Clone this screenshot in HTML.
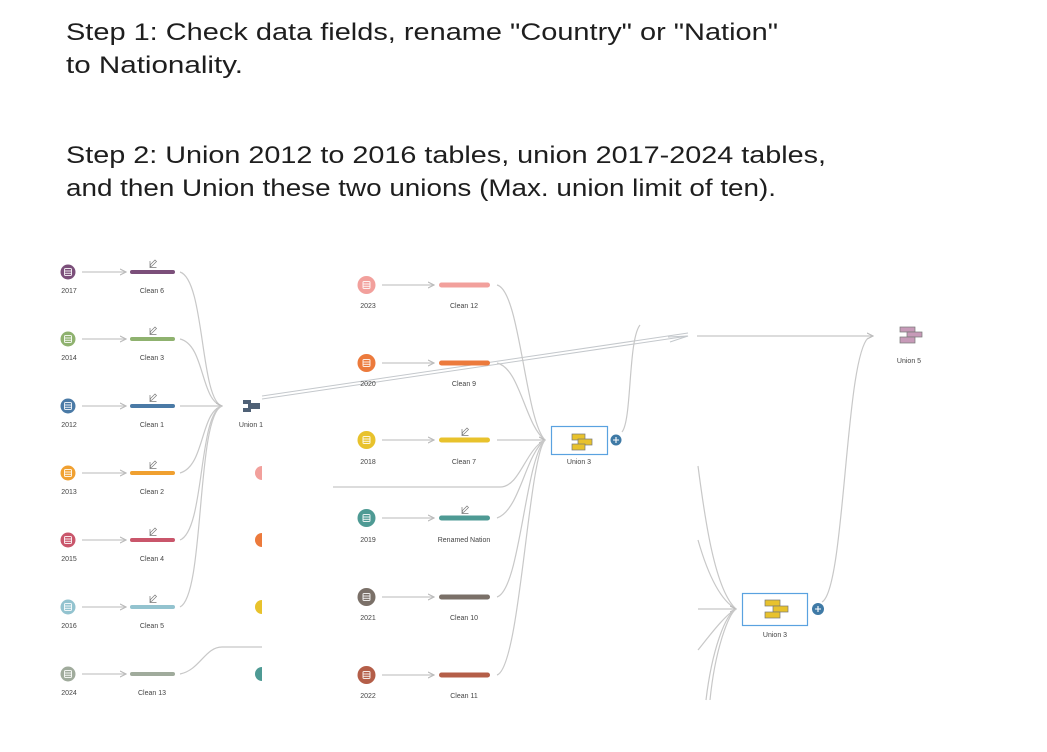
<!DOCTYPE html>
<html><head><meta charset="utf-8"><style>
html,body{margin:0;padding:0;background:#fff;}
svg{display:block;}
.t{font-family:"Liberation Sans",sans-serif;font-size:24px;fill:#1e1e1e;}
.s{font-family:"Liberation Sans",sans-serif;font-size:7px;fill:#444;text-anchor:middle;}
.c{fill:none;stroke:#c8c8c8;stroke-width:1.2;}
</style></head><body>
<svg width="1047" height="752" viewBox="0 0 1047 752" xmlns="http://www.w3.org/2000/svg">
<defs>
<marker id="a" markerWidth="6" markerHeight="6" refX="5" refY="3" orient="auto"><path d="M0,0.5 L5,3 L0,5.5" fill="none" stroke="#bbb" stroke-width="1"/></marker>
<g id="db"><rect x="-3.5" y="-3.5" width="7" height="7" rx="1" fill="none" stroke="#fff" stroke-width="1" opacity="0.85"/><line x1="-3.5" y1="-1" x2="3.5" y2="-1" stroke="#fff" opacity="0.85"/><line x1="-3.5" y1="1.3" x2="3.5" y2="1.3" stroke="#fff" opacity="0.85"/></g>
<g id="pen"><path d="M-3,3 L-2.5,0.5 L2,-4 L3.5,-2.5 L-1,2 Z M-3,-3 L-3,3.5 L3.5,3.5" fill="none" stroke="#777" stroke-width="0.7"/></g>
</defs>
<text class="t" x="66" y="40" textLength="712" lengthAdjust="spacingAndGlyphs">Step 1: Check data fields, rename "Country" or "Nation"</text>
<text class="t" x="66" y="73" textLength="177" lengthAdjust="spacingAndGlyphs">to Nationality.</text>
<text class="t" x="66" y="163" textLength="760" lengthAdjust="spacingAndGlyphs">Step 2: Union 2012 to 2016 tables, union 2017-2024 tables,</text>
<text class="t" x="66" y="196" textLength="710" lengthAdjust="spacingAndGlyphs">and then Union these two unions (Max. union limit of ten).</text>

<!-- LEFT PANEL -->
<g>
<path class="c" d="M180,272 C205,280 200,400 222,406"/>
<path class="c" d="M180,339 C205,345 200,400 222,406"/>
<path class="c" d="M180,406 L222,406" marker-end="url(#a)"/>
<path class="c" d="M180,473 C205,466 200,412 222,406"/>
<path class="c" d="M180,540 C205,530 198,414 222,406"/>
<path class="c" d="M180,607 C205,595 196,416 222,406"/>
<path class="c" d="M180,674 C200,670 205,647 222,647 L262,647"/>
<rect x="243" y="400" width="8" height="12" fill="#4f6176"/><rect x="249" y="403" width="11" height="6" fill="#4f6176"/><rect x="243" y="404" width="5" height="4" fill="#fff"/>
<text class="s" x="251" y="427">Union 1</text>
<g>
<circle cx="68" cy="272" r="7.5" fill="#7b4f7a"/><use href="#db" x="68" y="272"/><text class="s" x="69" y="293">2017</text>
<line class="c" x1="82" y1="272" x2="126" y2="272" marker-end="url(#a)"/><rect x="130" y="270" width="45" height="4" rx="2" fill="#7b4f7a"/><use href="#pen" x="153" y="264"/><text class="s" x="152" y="293">Clean 6</text>
<circle cx="68" cy="339" r="7.5" fill="#8fb26f"/><use href="#db" x="68" y="339"/><text class="s" x="69" y="360">2014</text>
<line class="c" x1="82" y1="339" x2="126" y2="339" marker-end="url(#a)"/><rect x="130" y="337" width="45" height="4" rx="2" fill="#8fb26f"/><use href="#pen" x="153" y="331"/><text class="s" x="152" y="360">Clean 3</text>
<circle cx="68" cy="406" r="7.5" fill="#4a7aa6"/><use href="#db" x="68" y="406"/><text class="s" x="69" y="427">2012</text>
<line class="c" x1="82" y1="406" x2="126" y2="406" marker-end="url(#a)"/><rect x="130" y="404" width="45" height="4" rx="2" fill="#4a7aa6"/><use href="#pen" x="153" y="398"/><text class="s" x="152" y="427">Clean 1</text>
<circle cx="68" cy="473" r="7.5" fill="#f0a030"/><use href="#db" x="68" y="473"/><text class="s" x="69" y="494">2013</text>
<line class="c" x1="82" y1="473" x2="126" y2="473" marker-end="url(#a)"/><rect x="130" y="471" width="45" height="4" rx="2" fill="#f0a030"/><use href="#pen" x="153" y="465"/><text class="s" x="152" y="494">Clean 2</text>
<circle cx="68" cy="540" r="7.5" fill="#c9566b"/><use href="#db" x="68" y="540"/><text class="s" x="69" y="561">2015</text>
<line class="c" x1="82" y1="540" x2="126" y2="540" marker-end="url(#a)"/><rect x="130" y="538" width="45" height="4" rx="2" fill="#c9566b"/><use href="#pen" x="153" y="532"/><text class="s" x="152" y="561">Clean 4</text>
<circle cx="68" cy="607" r="7.5" fill="#93c3cf"/><use href="#db" x="68" y="607"/><text class="s" x="69" y="628">2016</text>
<line class="c" x1="82" y1="607" x2="126" y2="607" marker-end="url(#a)"/><rect x="130" y="605" width="45" height="4" rx="2" fill="#93c3cf"/><use href="#pen" x="153" y="599"/><text class="s" x="152" y="628">Clean 5</text>
<circle cx="68" cy="674" r="7.5" fill="#a0ab9c"/><use href="#db" x="68" y="674"/><text class="s" x="69" y="695">2024</text>
<line class="c" x1="82" y1="674" x2="126" y2="674" marker-end="url(#a)"/><rect x="130" y="672" width="45" height="4" rx="2" fill="#a0ab9c"/><text class="s" x="152" y="695">Clean 13</text>
</g>
<path d="M262,466 A7,7 0 0 0 262,480 Z" fill="#f2a09c"/>
<path d="M262,533 A7,7 0 0 0 262,547 Z" fill="#ec7a3c"/>
<path d="M262,600 A7,7 0 0 0 262,614 Z" fill="#e8c22c"/>
<path d="M262,667 A7,7 0 0 0 262,681 Z" fill="#4e9a94"/>
</g>

<path d="M262,396 L688,333" stroke="#c4c8cc" stroke-width="1" fill="none"/>
<path d="M262,399 L688,336" stroke="#c4c8cc" stroke-width="1" fill="none"/>

<!-- MIDDLE PANEL -->
<g>
<path class="c" d="M497,285 C520,290 525,420 545,440"/>
<path class="c" d="M497,363 C520,368 525,425 545,440"/>
<path class="c" d="M497,440 L545,440" marker-end="url(#a)"/>
<path class="c" d="M497,518 C520,510 525,455 545,440"/>
<path class="c" d="M497,597 C520,590 525,460 545,440"/>
<path class="c" d="M497,675 C520,668 528,460 545,440"/>
<path class="c" d="M333,487 L500,487 C520,487 525,450 545,440"/>
<path class="c" d="M622,432 C632,420 628,340 640,325"/>
<path d="M670,342 L688,336 L668,337" stroke="#c4c8cc" fill="none"/>
<rect x="551.5" y="426.5" width="56" height="28" fill="#fff" stroke="#5aa2e0" stroke-width="1.2"/>
<rect x="572" y="434" width="13" height="6" fill="#e8c22c" stroke="#777" stroke-width="0.7"/>
<rect x="578" y="439" width="14" height="6" fill="#e8c22c" stroke="#777" stroke-width="0.7"/>
<rect x="572" y="444" width="13" height="6" fill="#e8c22c" stroke="#777" stroke-width="0.7"/>
<text class="s" x="579" y="464">Union 3</text>
<circle cx="616" cy="440" r="5.5" fill="#3f7aa6"/><path d="M613,440 h6 M616,437 v6" stroke="#fff" stroke-width="1.1"/>

<circle cx="366.5" cy="285" r="9" fill="#f2a09c"/><use href="#db" x="366.5" y="285"/><text class="s" x="368" y="308">2023</text>
<line class="c" x1="382" y1="285" x2="434" y2="285" marker-end="url(#a)"/><rect x="439" y="282.5" width="51" height="5" rx="2.5" fill="#f2a09c"/><text class="s" x="464" y="308">Clean 12</text>
<circle cx="366.5" cy="363" r="9" fill="#ec7a3c"/><use href="#db" x="366.5" y="363"/><text class="s" x="368" y="386">2020</text>
<line class="c" x1="382" y1="363" x2="434" y2="363" marker-end="url(#a)"/><rect x="439" y="360.5" width="51" height="5" rx="2.5" fill="#ec7a3c"/><text class="s" x="464" y="386">Clean 9</text>
<circle cx="366.5" cy="440" r="9" fill="#e8c22c"/><use href="#db" x="366.5" y="440"/><text class="s" x="368" y="464">2018</text>
<line class="c" x1="382" y1="440" x2="434" y2="440" marker-end="url(#a)"/><rect x="439" y="437.5" width="51" height="5" rx="2.5" fill="#e8c22c"/><use href="#pen" x="465" y="432"/><text class="s" x="464" y="464">Clean 7</text>
<circle cx="366.5" cy="518" r="9" fill="#4e9a94"/><use href="#db" x="366.5" y="518"/><text class="s" x="368" y="542">2019</text>
<line class="c" x1="382" y1="518" x2="434" y2="518" marker-end="url(#a)"/><rect x="439" y="515.5" width="51" height="5" rx="2.5" fill="#4e9a94"/><use href="#pen" x="465" y="510"/><text class="s" x="464" y="542">Renamed Nation</text>
<circle cx="366.5" cy="597" r="9" fill="#7a7068"/><use href="#db" x="366.5" y="597"/><text class="s" x="368" y="620">2021</text>
<line class="c" x1="382" y1="597" x2="434" y2="597" marker-end="url(#a)"/><rect x="439" y="594.5" width="51" height="5" rx="2.5" fill="#7a7068"/><text class="s" x="464" y="620">Clean 10</text>
<circle cx="366.5" cy="675" r="9" fill="#b45e48"/><use href="#db" x="366.5" y="675"/><text class="s" x="368" y="698">2022</text>
<line class="c" x1="382" y1="675" x2="434" y2="675" marker-end="url(#a)"/><rect x="439" y="672.5" width="51" height="5" rx="2.5" fill="#b45e48"/><text class="s" x="464" y="698">Clean 11</text>
</g>

<!-- RIGHT PANEL -->
<g>
<path class="c" d="M697,336 L873,336" marker-end="url(#a)"/>
<path class="c" d="M822,602 C845,590 845,360 868,338"/>
<path class="c" d="M698,466 C705,520 715,590 736,609"/>
<path class="c" d="M698,540 C708,575 720,600 736,609"/>
<path class="c" d="M698,609 L736,609" marker-end="url(#a)"/>
<path class="c" d="M698,650 C710,635 725,615 736,609"/>
<path class="c" d="M706,700 C712,650 725,615 736,609"/>
<path class="c" d="M710,700 C715,650 728,615 736,609"/>
<rect x="742.5" y="593.5" width="65" height="32" fill="#fff" stroke="#5aa2e0" stroke-width="1.2"/>
<rect x="765" y="600" width="15" height="6" fill="#e8c22c" stroke="#777" stroke-width="0.7"/>
<rect x="773" y="606" width="15" height="6" fill="#e8c22c" stroke="#777" stroke-width="0.7"/>
<rect x="765" y="612" width="15" height="6" fill="#e8c22c" stroke="#777" stroke-width="0.7"/>
<text class="s" x="775" y="637">Union 3</text>
<circle cx="818" cy="609" r="6" fill="#3f7aa6"/><path d="M815,609 h6 M818,606 v6" stroke="#fff" stroke-width="1.1"/>
<rect x="900" y="327" width="15" height="5" fill="#c79ab8" stroke="#777" stroke-width="0.7"/>
<rect x="907" y="332" width="15" height="5" fill="#c79ab8" stroke="#777" stroke-width="0.7"/>
<rect x="900" y="337" width="15" height="6" fill="#c79ab8" stroke="#777" stroke-width="0.7"/>
<text class="s" x="909" y="363">Union 5</text>
</g>
</svg>
</body></html>
